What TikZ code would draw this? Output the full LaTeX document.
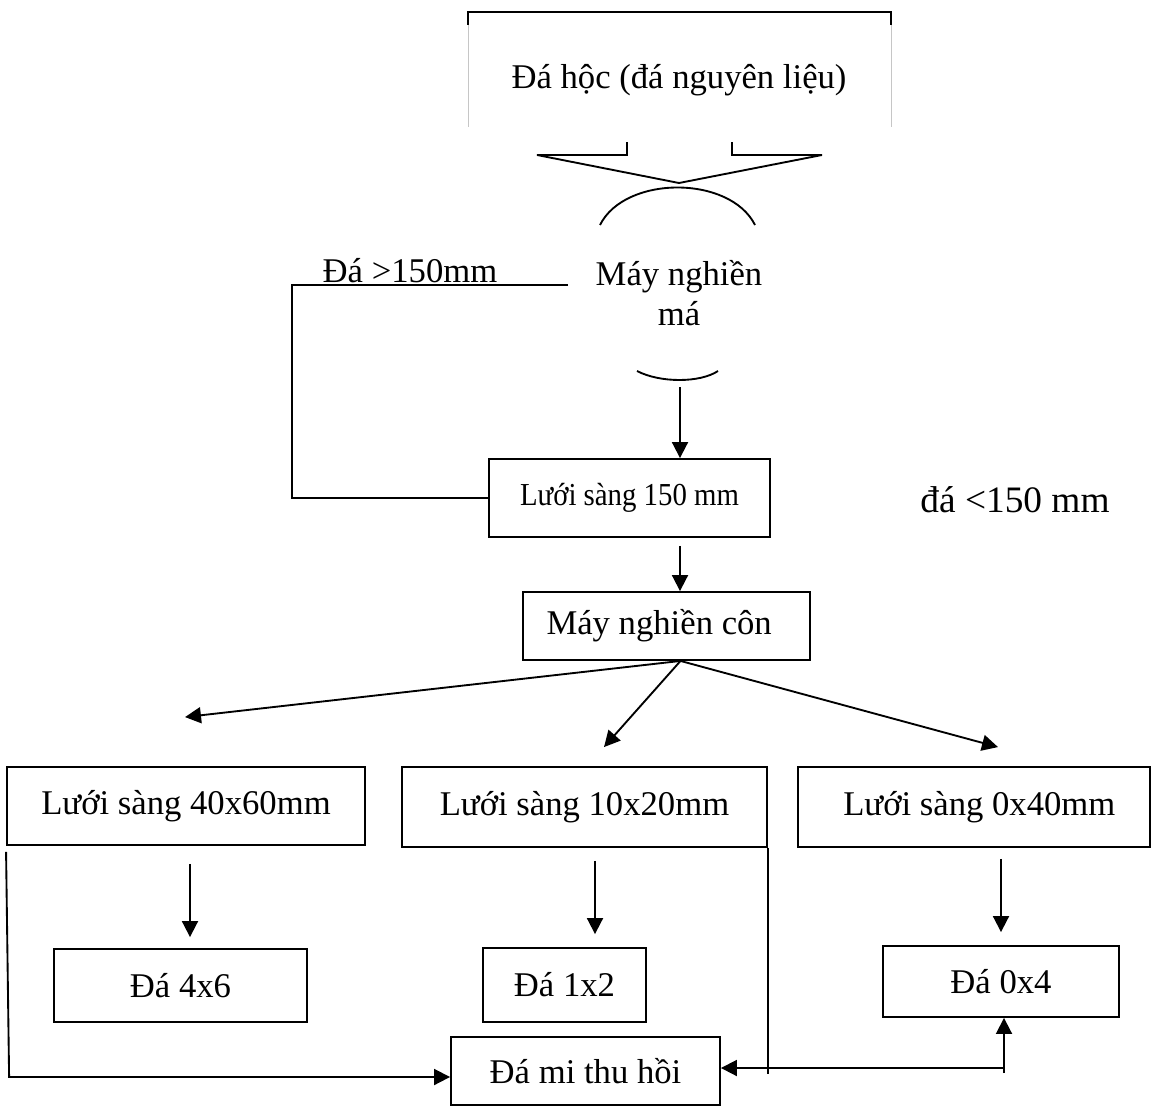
\documentclass[tikz,border=0pt]{standalone}
\usepackage{fontspec}
\usepackage{graphicx}
\setmainfont{Liberation Serif}
\usetikzlibrary{arrows.meta,calc}
\begin{document}
\begin{tikzpicture}[x={(0.75pt,0)},y={(0,-0.75pt)},
  txt/.style={font=\fontsize{26}{30}\selectfont, inner sep=0pt},
  box/.style={txt, draw, line width=1.4pt},
  ln/.style={line width=1.4pt},
  arr/.style={line width=1.4pt, -{Triangle[length=12pt,width=12pt]}}]
\useasboundingbox (0,0) rectangle (1153,1106);
% top source shape
\node[txt] (top) at (679,80) {Đá hộc (đá nguyên liệu)};
\draw[ln] (468,25) -- (468,12) -- (891,12) -- (891,25);
\draw[gray!45, line width=0.5pt] (468,25) -- (468,127) (891,25) -- (891,127);
% funnel
\draw[ln] (627,142) -- (627,155) -- (537,155) -- (679,183) -- (822,155) -- (732,155) -- (732,142);
% jaw crusher
\draw[ln] (600,225) .. controls (625,175) and (730,175) .. (755,225);
\draw[ln] (637,371) .. controls (660,383) and (700,383) .. (718,371);
\node[txt, align=center] (mm) at (679,293) {Máy nghiền\\má};
\coordinate (mmbot) at (680,387);
\coordinate (fb) at (568,285);
% boxes
\node[box, font=\fontsize{24}{28}\selectfont, minimum width=210.75pt, minimum height=58.5pt] (b150) at (629.5,498) {\scalebox{0.9}[1]{Lưới sàng 150 mm}};
\node[box, minimum width=215.25pt, minimum height=51pt] (con) at (666.5,626) {\hspace*{-11pt}Máy nghiền côn};
\node[box, minimum width=268.5pt, minimum height=58.5pt] (s1) at (186,806) {Lưới sàng 40x60mm};
\node[box, minimum width=273.75pt, minimum height=60pt] (s2) at (584.5,807) {Lưới sàng 10x20mm};
\node[box, minimum width=264pt, minimum height=60pt] (s3) at (974,807) {\hspace*{8pt}Lưới sàng 0x40mm};
\node[box, minimum width=189.75pt, minimum height=54.75pt] (d46) at (180.5,985.5) {Đá 4x6};
\node[box, minimum width=122.25pt, minimum height=55.5pt] (d12) at (564.5,985) {Đá 1x2};
\node[box, minimum width=177pt, minimum height=53.25pt] (d04) at (1001,981.5) {Đá 0x4};
\node[box, minimum width=201.75pt, minimum height=51pt] (mi) at (585.5,1071) {Đá mi thu hồi};
% labels
\node[txt] (gt) at (410,271) {Đá >150mm};
\node[txt, font=\fontsize{28}{32}\selectfont] (lt) at (1015,500) {đá <150 mm};
% connectors
\draw[arr] (mmbot) -- (mmbot |- b150.north);
\draw[ln] (fb) -| ($(b150.west)+(-196,0)$) -- (b150.west);
\draw[arr] ($(b150.south)+(50.5,8)$) -- ($(con.north)+(13.5,0)$);
\coordinate (cs) at ($(con.south)+(14,0)$);
\draw[arr] (cs) -- ($(s1.north)+(-1,-49)$);
\draw[arr] (cs) -- ($(s2.north)+(19.5,-19)$);
\draw[arr] (cs) -- ($(s3.north)+(24,-19)$);
\draw[arr] ($(s1.south)+(4,18)$) -- ($(d46.north)+(9.5,-11)$);
\draw[arr] ($(s2.south)+(10.5,13)$) -- ($(d12.north)+(30.5,-13)$);
\draw[arr] ($(s3.south)+(27,11)$) -- ($(d04.north)+(0,-13)$);
\draw[arr] ($(s1.south west)+(0,6)$) -- ($(mi.west)+(-441,3)$) -- ($(mi.west)+(-441,6)$) -- ($(mi.west)+(0,6)$);
\draw[ln] (s2.south east) -- ++(0,226);
\coordinate (jr) at (1004,1068);
\draw[arr] (jr) -- (jr -| mi.east);
\draw[arr] ($(jr)+(0,5)$) -- (jr |- d04.south);
\end{tikzpicture}
\end{document}
